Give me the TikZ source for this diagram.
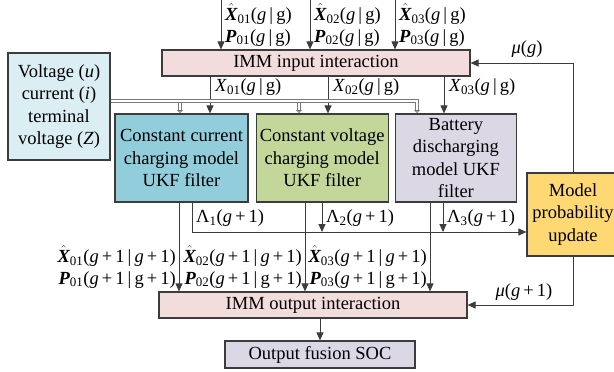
\documentclass[tikz,border=0pt]{standalone}
\usepackage{amsmath}
\usepackage{fontspec}
\setmainfont{Liberation Serif}
\usetikzlibrary{arrows.meta, positioning, calc}
\definecolor{linegray}{RGB}{60,60,60}
\definecolor{busgray}{RGB}{120,120,120}
\definecolor{immpink}{RGB}{242,221,220}
\definecolor{voltblue}{RGB}{219,238,243}
\definecolor{ccteal}{RGB}{146,205,220}
\definecolor{cvgreen}{RGB}{196,215,155}
\definecolor{batlav}{RGB}{219,215,229}
\definecolor{mpuyellow}{RGB}{254,216,115}
\newcommand{\Xhat}{\ensuremath{\hat{\mbox{\bfseries\itshape X}}}}
\newcommand{\Pb}{\textbf{\textit{P}}}
\newcommand{\gi}{\textit{g}}

\begin{document}
\begin{tikzpicture}[
      x=1pt, y=-1pt,
      font=\fontsize{18.5}{22.5}\selectfont,
      blk/.style={draw=linegray, line width=1.2pt, inner sep=0pt, align=center},
      arr/.style={-{Triangle[length=8pt, width=7pt]}, line width=1pt, linegray},
      bus/.style={draw=busgray, line width=1pt, double=white, double distance=2pt},
      lbl/.style={inner sep=1pt}
    ]
      \useasboundingbox (0,0) rectangle (614,372);

      % blocks
      \node[blk, fill=immpink, minimum width=308pt, minimum height=26pt] (inp) at (316,63) {IMM input interaction};
      \node[blk, fill=voltblue, minimum width=102pt, minimum height=107pt] (volt) at (59,106.5) {Voltage (\textit{u})\\current (\textit{i})\\terminal\\voltage (\textit{Z})};
      \node[blk, fill=ccteal, minimum width=133pt, minimum height=88pt] (cc) at (181.5,158) {Constant current\\charging model\\UKF filter};
      \node[blk, fill=cvgreen, minimum width=132pt, minimum height=88pt, right=7pt of cc] (cv) {Constant voltage\\charging model\\UKF filter};
      \node[blk, fill=batlav, minimum width=121pt, minimum height=88pt, right=6pt of cv] (bat) {Battery\\discharging\\model UKF\\filter};
      \node[blk, fill=mpuyellow, minimum width=92pt, minimum height=83pt] (mpu) at (573,214.5) {Model\\probability\\update};
      \node[blk, fill=immpink, minimum width=308pt, minimum height=26pt] (outp) at (313,305) {IMM output interaction};
      \node[blk, fill=batlav, minimum width=190pt, minimum height=27pt] (soc) at (320,354.5) {Output fusion SOC};

      % inputs into IMM input interaction
      \foreach \x/\n in {221/1, 310/2, 395/3} {
        \coordinate (top\n) at (\x,0);
        \draw[arr] (top\n) -- (top\n |- inp.north);
        \node[lbl, anchor=west, align=left] (xin\n) at (\x+3,25) {\Xhat\textsubscript{0\n}(\gi\,|\,g)\\[-1pt]\Pb\textsubscript{0\n}(\gi\,|\,g)};
      }

      % mixed states to the filters
      \foreach \x/\n/\b in {210/1/cc, 328/2/cv, 444/3/bat} {
        \draw[arr] (inp.south -| \x,0) -- (\x,0 |- \b.north);
        \node[lbl, anchor=west] (xmix\n) at (\x+4,87) {\textit{X}\textsubscript{0\n}(\gi\,|\,g)};
      }

      % measurement bus
      \draw[bus, -{Triangle[open, length=3pt, width=6pt]}] (volt.east |- 0,101) -- (417,101) -- (417,113);
      \foreach \x in {180, 299}
        \draw[bus, -{Triangle[open, length=3pt, width=6pt]}] (\x,103) -- (\x,113);

      % filter outputs
      \foreach \x/\n/\b in {179/1/cc, 305/2/cv, 430/3/bat} {
        \draw[arr] (\x,0 |- \b.south) -- (\x,0 |- outp.north);
        \node[lbl, anchor=east, align=right] (xout\n) at (\x-2,267) {\Xhat\textsubscript{0\n}(\gi\,+\,1\,|\,\gi\,+\,1)\\[-1pt]\Pb\textsubscript{0\n}(\gi\,+\,1\,|\,g\,+\,1)};
      }

      % likelihoods
      \draw[arr] (192,0 |- cc.south) -- (192,232) -- (mpu.west |- 0,232);
      \draw[arr] (322,0 |- cv.south) -- (322,232);
      \draw[arr] (443,0 |- bat.south) -- (443,232);
      \foreach \x/\n in {192/1, 322/2, 443/3}
        \node[lbl, anchor=west] (lam\n) at (\x+3,218) {Λ\textsubscript{\n}(\gi\,+\,1)};

      % model probabilities
      \draw[arr] (mpu.north) -- (mpu.north |- inp.east) -- (inp.east);
      \node[lbl] (mug) at (527,49) {\textit{μ}(\gi)};
      \draw[arr] (mpu.south) -- (mpu.south |- outp.east) -- (outp.east);
      \node[lbl] (mug1) at (524,292) {\textit{μ}(\gi\,+\,1)};

      \draw[arr] (outp.south -| soc.north) -- (soc.north);
    \end{tikzpicture}
\end{document}
